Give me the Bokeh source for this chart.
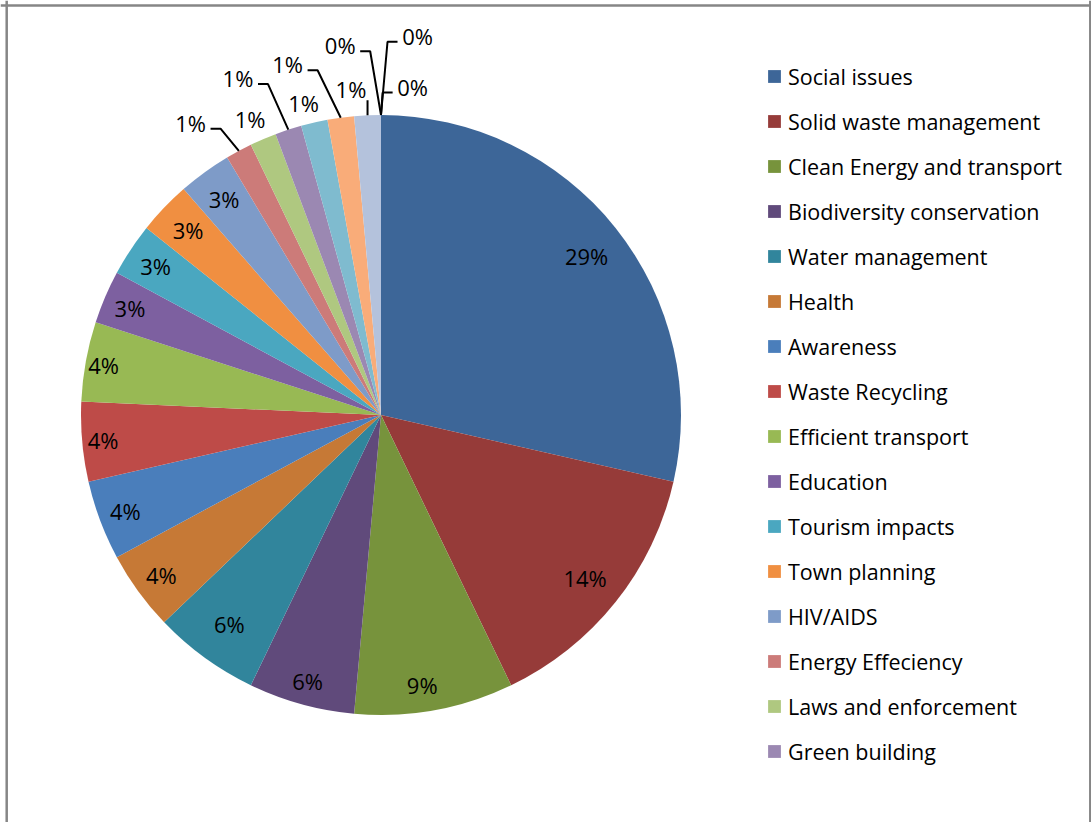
import numpy as np
from bokeh.plotting import figure
from bokeh.models import Range1d, Legend, LegendItem, ColumnDataSource, Span
from bokeh.core.properties import value
from bokeh.embed import file_html
from bokeh.resources import INLINE

# ---------------- data ----------------
categories = [
    "Social issues", "Solid waste management", "Clean Energy and transport",
    "Biodiversity conservation", "Water management", "Health", "Awareness",
    "Waste Recycling", "Efficient transport", "Education", "Tourism impacts",
    "Town planning", "HIV/AIDS", "Energy Effeciency", "Laws and enforcement",
    "Green building", "Category 17", "Category 18", "Category 19",
    "Category 20", "Category 21", "Category 22",
]
counts = [20, 10, 6, 4, 4, 3, 3, 3, 3, 2, 2, 2, 2, 1, 1, 1, 1, 1, 1, 0, 0, 0]
legend_shown = 16  # legend is truncated after "Green building"

# ---------------- style ----------------
colors = [
    "#3D6698", "#963B39", "#77933C", "#604A7B", "#31859C", "#C67936",
    "#4A7EBB", "#BE4B48", "#98B954", "#7D60A0", "#4AA7C0", "#F08F41",
    "#7E9BC8", "#CC7B79", "#AFC880", "#9B88B2", "#7FBBCF", "#F9AC79",
    "#B4C2DC", "#3D6698", "#963B39", "#77933C",
]
# label radius (fraction of pie radius) and angular shift (degrees, clockwise)
label_r = [0.867, 0.87, 0.91, 0.92, 0.86, 0.905, 0.91, 0.93, 0.94, 0.91,
           0.90, 0.89, 0.89, 1.163, 1.08, 1.22, 1.07, 1.21, 1.09, 1.24, 1.27, 1.10]
label_shift = [0.8, 0, 1.6, 0, 0, 0, 0, 0, 0, 0, 0, 0, 0, -4.8, -0.7, -5.0,
               -1.1, -7.2, -2.7, -6.3, 5.5, 5.5]
# leader: 0 none, -1 label left of slice, +1 label right of slice, 2 vertical
leader = [0] * 13 + [-1, 0, -1, 0, -1, 2, -1, 1, 1]

W, H = 1091, 822
CX, CY, R = 380.5, 414.5, 300.0   # pixel geometry of the pie


def dx(px):
    return (px - CX) / R


def dy(py):
    return (CY - py) / R


p = figure(width=W, height=H, output_backend="svg", toolbar_location=None,
           x_range=Range1d(dx(0), dx(W)), y_range=Range1d(dy(H), dy(0)),
           min_border=0, outline_line_color=None)
p.axis.visible = False
p.grid.visible = False
p.background_fill_color = "white"
p.border_fill_color = "white"

vals = np.array(counts, dtype=float)
total = vals.sum()
frac = vals / total
cum_end = np.cumsum(frac)
cum_start = cum_end - frac
start_a = np.pi / 2 - 2 * np.pi * cum_start
end_a = np.pi / 2 - 2 * np.pi * cum_end
mid_deg = 360 * (cum_start + cum_end) / 2

pos = vals > 0
src = ColumnDataSource(dict(
    cat=[c for c, k in zip(categories, pos) if k],
    start=start_a[pos], end=end_a[pos],
    color=[c for c, k in zip(colors, pos) if k],
))
wr = p.wedge(x=0, y=0, radius=1, start_angle="start", end_angle="end",
             direction="clock", fill_color="color", line_color=None, source=src)

# percentage labels
texts = [f"{round(100 * v / total)}%" for v in vals]
ang = np.radians(mid_deg + np.array(label_shift))
lx = np.array(label_r) * np.sin(ang)
ly = np.array(label_r) * np.cos(ang)
p.text(x=lx, y=ly, text=texts, text_align="center", text_baseline="middle",
       text_font=value("Open Sans"), text_font_size="22px", text_color="black")

# leader lines
xs, ys = [], []
px1 = 1 / R
for i, kind in enumerate(leader):
    if kind == 0:
        continue
    ea = np.radians(mid_deg[i])
    ex, ey = np.sin(ea), np.cos(ea)
    if kind == 2:
        xs.append([ex, ex])
        ys.append([ey, ey + 15 * px1])
        continue
    sx0 = lx[i] - kind * 20 * px1
    sy0 = ly[i] - 6 * px1
    sx1 = sx0 - kind * 10 * px1
    xs.append([sx0, sx1, ex])
    ys.append([sy0, sy0, ey])
p.multi_line(xs=xs, ys=ys, line_color="black", line_width=2)

# legend
items = [LegendItem(label=categories[i], renderers=[wr], index=i)
         for i in range(legend_shown)]
legend = Legend(items=items, location=(766, 56), orientation="vertical",
                label_text_font="Open Sans", label_text_font_size="21.5px",
                label_text_color="black", glyph_width=16, glyph_height=16,
                label_height=30, label_standoff=6, spacing=15, padding=0,
                margin=0, border_line_color=None, background_fill_alpha=0)
p.add_layout(legend, "center")

# chart area border (bottom edge is outside the picture)
for loc, dim in ((dx(6.2), "height"), (dx(1089.8), "height")):
    p.add_layout(Span(location=loc, dimension=dim, line_color="#868686", line_width=2.5))
p.add_layout(Span(location=dy(5), dimension="width", line_color="#868686", line_width=2.5))

open("out.html", "w").write(file_html(p, INLINE))
